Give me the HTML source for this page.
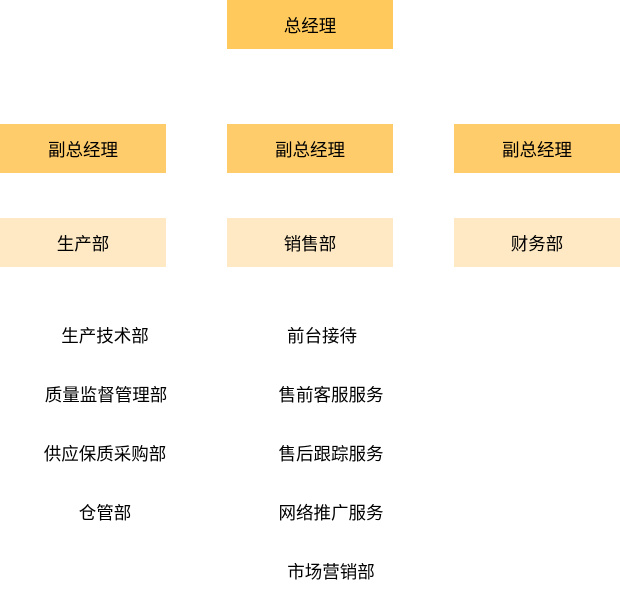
<!DOCTYPE html>
<html><head><meta charset="utf-8"><style>
body{margin:0;width:620px;height:595px;background:#fff;position:relative;font-family:"Liberation Sans","Noto Sans CJK SC",sans-serif;font-size:17.5px;color:#000;overflow:hidden}
.b{position:absolute;display:flex;align-items:center;justify-content:center;width:166px;height:49px;padding-top:2px;box-sizing:border-box}
.t{position:absolute;width:200px;text-align:center;line-height:20px}
</style></head><body>
<div class="b" style="left:227px;top:0;background:#FFC95C">总经理</div>
<div class="b" style="left:0;top:124px;background:#FFCC6B">副总经理</div>
<div class="b" style="left:227px;top:124px;background:#FFCC6B">副总经理</div>
<div class="b" style="left:454px;top:124px;background:#FFCC6B">副总经理</div>
<div class="b" style="left:0;top:218px;background:#FFE9C4">生产部</div>
<div class="b" style="left:227px;top:218px;background:#FFE9C4">销售部</div>
<div class="b" style="left:454px;top:218px;background:#FFE9C4">财务部</div>
<div class="t" style="left:5px;top:326px">生产技术部</div>
<div class="t" style="left:6px;top:385px">质量监督管理部</div>
<div class="t" style="left:5px;top:444px">供应保质采购部</div>
<div class="t" style="left:5px;top:503px">仓管部</div>
<div class="t" style="left:222px;top:326px">前台接待</div>
<div class="t" style="left:231px;top:385px">售前客服服务</div>
<div class="t" style="left:231px;top:444px">售后跟踪服务</div>
<div class="t" style="left:231px;top:503px">网络推广服务</div>
<div class="t" style="left:231px;top:562px">市场营销部</div>
</body></html>
